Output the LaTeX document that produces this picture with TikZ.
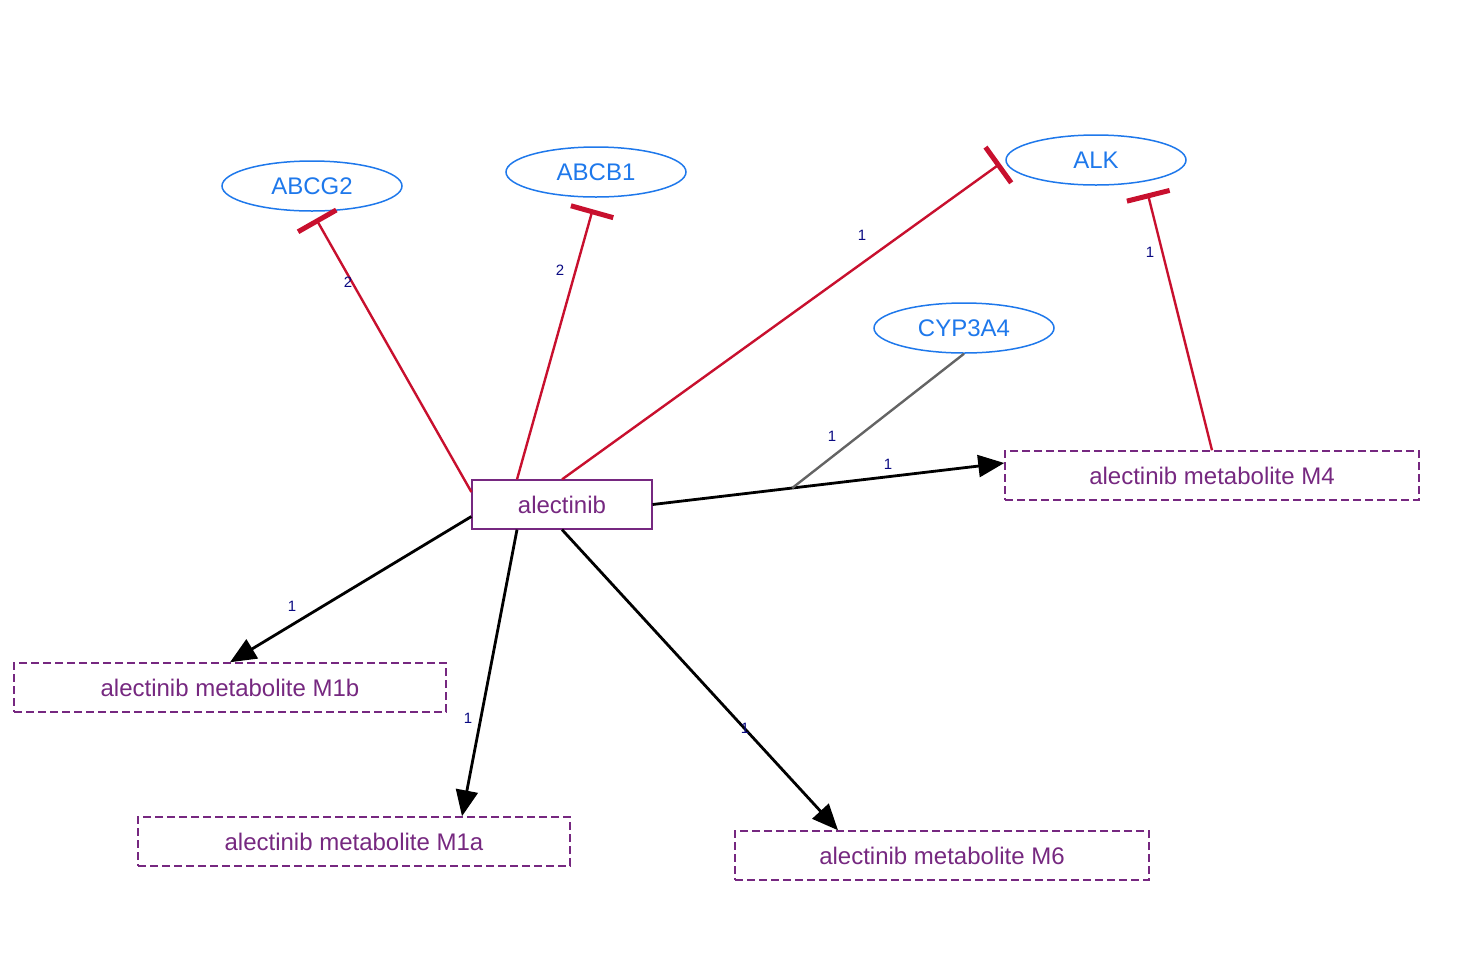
\documentclass[tikz,border=0pt]{standalone}
\usepackage{fontspec}
\setmainfont{Liberation Sans}
\usetikzlibrary{shapes.geometric,arrows.meta,calc}
\definecolor{nodeblue}{RGB}{30,120,235}
\definecolor{drugpurple}{RGB}{118,40,128}
\definecolor{inhred}{RGB}{200,16,46}
\definecolor{labnavy}{RGB}{10,10,130}
\definecolor{edgegray}{RGB}{100,100,100}
\tikzset{
  protein/.style={ellipse,draw=nodeblue,line width=0.75pt,text=nodeblue,minimum width=90pt,minimum height=25pt,inner sep=0pt,font=\fontsize{12}{14}\selectfont},
  drug/.style={rectangle,draw=drugpurple,line width=0.6pt,text=drugpurple,minimum width=90pt,minimum height=24.5pt,inner sep=0pt,font=\fontsize{12}{14}\selectfont},
  metab/.style={rectangle,draw=drugpurple,line width=0.75pt,dash pattern=on 4pt off 2pt,text=drugpurple,minimum height=24.5pt,inner sep=0pt,font=\fontsize{12}{14}\selectfont},
  inhib/.style={draw=inhred,line width=1.2pt,-{Bar[width=22pt,line width=2.5pt]}},
  conv/.style={draw=black,line width=1.4pt,-{Triangle[length=13pt,width=11pt]}},
  catal/.style={draw=edgegray,line width=1.2pt},
  elab/.style={text=labnavy,font=\fontsize{7.5}{9}\selectfont,inner sep=0pt},
}
\begin{document}
\begin{tikzpicture}[x=0.5pt,y=-0.5pt]
\useasboundingbox (0,0) rectangle (1472,954);
% nodes
\node[protein] (abcg2) at (312,186) {ABCG2};
\node[protein] (abcb1) at (596,172) {ABCB1};
\node[protein] (alk) at (1096,160) {ALK};
\node[protein] (cyp) at (964,328) {CYP3A4};
\node[drug] (alec) at (562,504.5) {alectinib};
\node[metab,minimum width=207pt] (m4) at (1212,475.5) {alectinib metabolite M4};
\node[metab,minimum width=216pt] (m1b) at (230,687.5) {alectinib metabolite M1b};
\node[metab,minimum width=216pt] (m1a) at (354,841.5) {alectinib metabolite M1a};
\node[metab,minimum width=207pt] (m6) at (942,855.5) {alectinib metabolite M6};
% inhibition edges
\draw[inhib,shorten >=4pt] ([yshift=6.25pt]alec.west) -- (abcg2.south);
\draw[inhib,shorten >=6pt] ([xshift=-22.5pt]alec.north) -- (abcb1.south);
\draw[inhib,shorten >=3pt] (alec.north) -- (alk.west);
\draw[inhib,shorten >=6pt] (m4.north) -- (alk.-24);
% conversion edges
\coordinate (m4in) at ([yshift=6.25pt]m4.west);
\draw[conv] (alec.east) -- (m4in);
\coordinate (catpt) at ($(alec.east)!0.397!(m4in)$);
\draw[catal] (cyp.south) -- (catpt);
\draw[conv] ([yshift=-6pt]alec.west) -- (m1b.north);
\draw[conv] ([xshift=-22.5pt]alec.south) -- ([xshift=54pt]m1a.north);
\draw[conv] (alec.south) -- ([xshift=-52pt]m6.north);
% edge labels
\node[elab] (l1) at (348,282) {2};
\node[elab] (l2) at (560,270) {2};
\node[elab] (l3) at (862,235) {1};
\node[elab] (l4) at (1150,252) {1};
\node[elab] (l5) at (832,436) {1};
\node[elab] (l6) at (888,464) {1};
\node[elab] (l7) at (292,606) {1};
\node[elab] (l8) at (468,718) {1};
\node[elab] (l9) at (745,728) {1};
\end{tikzpicture}
\end{document}
